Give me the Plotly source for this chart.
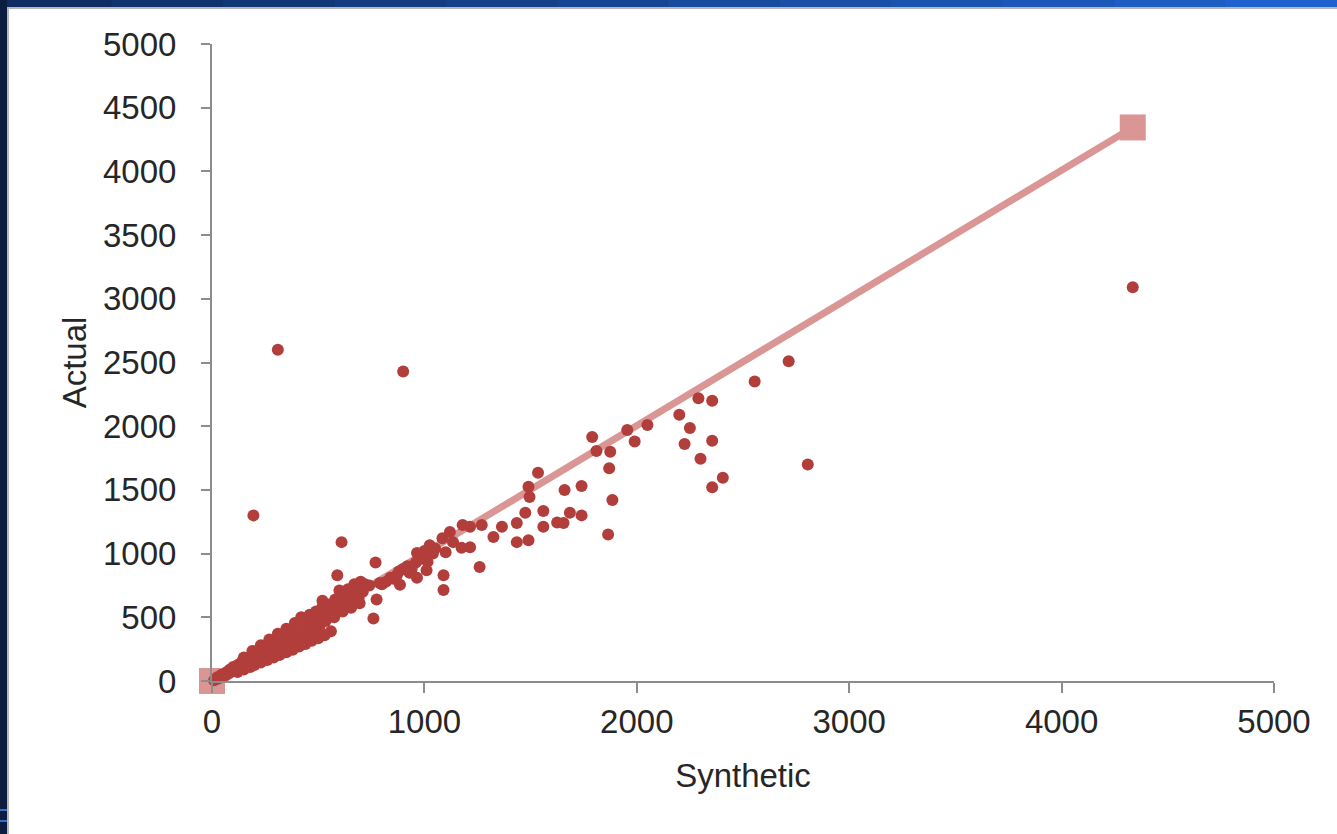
import plotly.graph_objects as go

# ---------------- data ----------------
synthetic = [
    # dense band near origin
    10, 20, 25, 30, 40, 45, 50, 60, 65, 70, 80, 85, 90, 100, 105, 110, 120, 125, 130, 140,
    145, 150, 160, 165, 170, 180, 185, 190, 200, 205, 210, 220, 225, 230, 240, 245, 250, 260,
    265, 270, 280, 285, 290, 300, 305, 310, 320, 325, 330, 340, 345, 350, 360, 365, 370, 380,
    385, 390, 400, 405, 410, 420, 425, 430, 440, 445, 450, 460, 465, 470, 480, 485, 490, 500,
    505, 510, 520, 525, 530, 540, 550, 560, 570, 580, 590, 595, 600, 610, 620, 630, 640, 650,
    660, 670, 680, 690, 700, 710, 720, 740, 760, 770, 775, 790, 800, 820, 840, 860, 870, 880,
    885, 900, 920, 930, 940, 960, 965, 965, 980, 1000, 1000, 1010, 1015, 1025, 1040, 1050,
    # extra spread in the dense band
    120, 150, 180, 200, 230, 260, 290, 320, 350, 380, 410, 440, 470, 500, 530, 560,
    150, 190, 230, 270, 310, 350, 390, 430, 460, 490, 520, 550, 580, 610, 640, 670,
    100, 140, 175, 215, 255, 295, 335, 375, 415, 455, 495, 535, 575, 615, 655, 695,
    # middle region
    1085, 1090, 1090, 1100, 1120, 1135, 1175, 1180, 1215, 1215, 1260, 1270, 1325, 1365, 1435,
    1435, 1475, 1490, 1490, 1495, 1535, 1560, 1560, 1625, 1655, 1660, 1685, 1740, 1740, 1790,
    1810, 1865, 1870, 1875, 1885, 1955, 1990, 2050, 2200, 2225, 2250, 2290, 2300, 2355, 2355,
    2355, 2405, 2555, 2715, 2805, 4335,
    # outliers
    195, 310, 900,
]
actual = [
    5, 15, 30, 20, 35, 50, 40, 55, 45, 70, 60, 90, 75, 95, 80, 110, 100, 130, 115, 120,
    150, 135, 170, 140, 160, 190, 150, 175, 215, 170, 190, 240, 200, 180, 260, 215, 230, 280,
    200, 250, 290, 240, 260, 310, 230, 270, 320, 250, 290, 350, 280, 300, 330, 260, 310, 360,
    290, 330, 390, 300, 350, 500, 340, 380, 420, 330, 470, 400, 360, 440, 500, 380, 450, 520,
    420, 470, 630, 480, 540, 500, 560, 520, 590, 550, 830, 600, 710, 1090, 640, 580, 720, 620,
    700, 760, 740, 650, 780, 700, 760, 750, 490, 930, 640, 770, 760, 780, 810, 800, 830, 860,
    755, 880, 900, 850, 880, 930, 1005, 810, 960, 970, 1020, 870, 935, 1065, 1000, 1040,
    # extra spread in the dense band
    70, 90, 110, 125, 145, 165, 185, 205, 225, 245, 270, 290, 315, 335, 360, 390,
    185, 235, 280, 325, 370, 410, 455, 490, 520, 545, 580, 600, 640, 670, 690, 720,
    110, 150, 185, 225, 260, 300, 330, 365, 395, 420, 440, 470, 500, 545, 575, 610,
    # middle region
    1120, 830, 715, 1010, 1170, 1090, 1045, 1225, 1210, 1050, 895, 1225, 1130, 1210, 1240,
    1090, 1320, 1525, 1105, 1445, 1635, 1210, 1335, 1245, 1240, 1500, 1320, 1530, 1300, 1915,
    1805, 1150, 1670, 1800, 1420, 1970, 1880, 2010, 2090, 1860, 1985, 2220, 1745, 1520, 1885,
    2200, 1595, 2350, 2510, 1700, 3090,
    1300, 2600, 2430,
]
trend_x = [0, 4335]
trend_y = [0, 4345]

x_ticks = [0, 1000, 2000, 3000, 4000, 5000]
y_ticks = [0, 500, 1000, 1500, 2000, 2500, 3000, 3500, 4000, 4500, 5000]

# ---------------- figure ----------------
W, H = 1337, 834
ML, MR, MT, MB = 212, 63, 44, 153
PW, PH = W - ML - MR, H - MT - MB

FONT = "Liberation Sans, Arial, sans-serif"
TXT = "#262626"
AX = "#8c8c8c"

fig = go.Figure()
fig.add_trace(go.Scatter(
    x=trend_x, y=trend_y, mode="lines+markers",
    line=dict(color="#D99694", width=7),
    marker=dict(symbol="square", size=26, color="#D99694"),
    cliponaxis=False, showlegend=False, hoverinfo="skip",
))
fig.add_trace(go.Scatter(
    x=synthetic, y=actual, mode="markers",
    marker=dict(size=12, color="#B23E3C", line=dict(width=0)),
    cliponaxis=False, showlegend=False,
))

def px2paper_x(px):
    return (px - ML) / PW

def px2paper_y(py):
    return (H - MB - py) / PH

shapes = []
# top border gradient (dark navy -> bright blue)
n = 12
c0 = (15, 45, 100)
c1 = (31, 98, 205)
for i in range(n):
    t = i / (n - 1)
    col = "rgb(%d,%d,%d)" % tuple(round(a + (b - a) * t) for a, b in zip(c0, c1))
    shapes.append(dict(type="rect", xref="paper", yref="paper", layer="above",
                       x0=px2paper_x(W * i / n), x1=px2paper_x(W * (i + 1) / n + 1),
                       y0=px2paper_y(7), y1=px2paper_y(0),
                       fillcolor=col, line=dict(width=0)))
# thin gray line under top border
shapes.append(dict(type="rect", xref="paper", yref="paper", layer="above",
                   x0=px2paper_x(8), x1=px2paper_x(W), y0=px2paper_y(9), y1=px2paper_y(7),
                   fillcolor="#b8b8b8", line=dict(width=0)))
# left border
shapes.append(dict(type="rect", xref="paper", yref="paper", layer="above",
                   x0=px2paper_x(0), x1=px2paper_x(7), y0=px2paper_y(H), y1=px2paper_y(0),
                   fillcolor="#0c1d3f", line=dict(width=0)))
shapes.append(dict(type="rect", xref="paper", yref="paper", layer="above",
                   x0=px2paper_x(7), x1=px2paper_x(9), y0=px2paper_y(H), y1=px2paper_y(7),
                   fillcolor="#b8b8b8", line=dict(width=0)))
for yy in (809, 820):
    shapes.append(dict(type="rect", xref="paper", yref="paper", layer="above",
                       x0=px2paper_x(0), x1=px2paper_x(7), y0=px2paper_y(yy + 2), y1=px2paper_y(yy),
                       fillcolor="#3a6fc8", line=dict(width=0)))

fig.update_layout(
    width=W, height=H,
    margin=dict(l=ML, r=MR, t=MT, b=MB, pad=0),
    paper_bgcolor="white", plot_bgcolor="white",
    font=dict(family=FONT, size=33, color=TXT),
    shapes=shapes,
    xaxis=dict(
        range=[0, 5000], tickvals=x_ticks, ticktext=[str(v) for v in x_ticks],
        showgrid=False, zeroline=False, showline=True, linecolor=AX, linewidth=2,
        ticks="outside", ticklen=10, tickwidth=2, tickcolor=AX,
        tickfont=dict(family=FONT, size=33, color=TXT),
        title=dict(text="Synthetic", font=dict(family=FONT, size=33, color=TXT), standoff=25),
        ticklabelstandoff=0,
    ),
    yaxis=dict(
        range=[0, 5000], tickvals=y_ticks, ticktext=[str(v) for v in y_ticks],
        showgrid=False, zeroline=False, showline=True, linecolor=AX, linewidth=2,
        ticks="outside", ticklen=9, tickwidth=2, tickcolor=AX,
        tickfont=dict(family=FONT, size=33, color=TXT),
        title=dict(text="Actual", font=dict(family=FONT, size=33, color=TXT), standoff=6),
        ticklabelstandoff=18,
    ),
)

fig.write_html(
    "out.html",
    config={"displayModeBar": False},
    post_script="document.body.style.margin='0';document.body.style.overflow='hidden';",
)
